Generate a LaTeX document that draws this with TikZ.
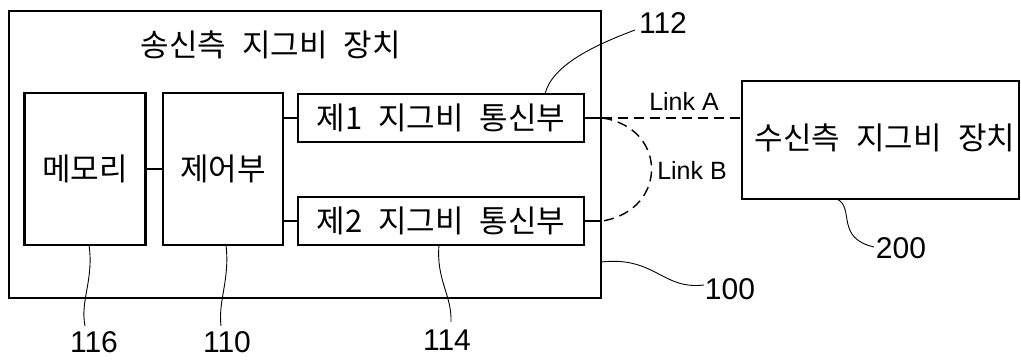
\documentclass[tikz,border=0pt]{standalone}
\usepackage{fontspec}
\setmainfont{Liberation Sans}
\newfontfamily\kr[WordSpace=2.3]{Noto Sans CJK KR}
\begin{document}
\begin{tikzpicture}[x=1pt,y=-1pt,
  box/.style={draw,line width=2.6pt,inner sep=0pt},
  kt/.style={font=\kr\fontsize{31}{35}\selectfont},
  num/.style={font=\fontsize{30}{34}\selectfont,inner sep=0pt},
  lnk/.style={font=\fontsize{25}{28}\selectfont,inner sep=0pt},
  wire/.style={line width=2pt},
  lead/.style={line width=0.9pt},
  dlink/.style={line width=1.4pt,dash pattern=on 10pt off 6pt}]
\useasboundingbox (0,0) rectangle (1021,363);
% boxes
\node[box,minimum width=592pt,minimum height=287pt] (dev) at (305,154.5) {};
\node[kt] (title) at (271,45) {송신측 지그비 장치};
\node[box,kt,minimum width=121pt,minimum height=152pt] (mem) at (85,169) {메모리};
\node[box,kt,minimum width=120pt,minimum height=152pt] (ctl) at (223,169) {제어부};
\node[box,kt,minimum width=286pt,minimum height=48pt] (z1) at (441,118) {제1 지그비 통신부};
\node[box,kt,minimum width=286pt,minimum height=48pt] (z2) at (441,221) {제2 지그비 통신부};
\node[box,minimum width=277pt,minimum height=118pt] (rx) at (880.5,140) {};
\node[kt] (rxt) at (885,138) {수신측 지그비 장치};
% wires
\draw[wire] (mem.east) -- (ctl.west);
\draw[wire] (ctl.east |- z1.west) -- (z1.west);
\draw[wire] (ctl.east |- z2.west) -- (z2.west);
\coordinate (p1) at (dev.east |- z1.east);
\coordinate (p2) at (dev.east |- z2.east);
\draw[wire] (z1.east) -- (p1);
\draw[wire] (z2.east) -- (p2);
% links
\draw[dlink] (p1) -- (rx.west |- p1);
\node[lnk] (la) at (684,101) {Link A};
\draw[dlink] (p1) .. controls (668,128) and (668,210) .. (p2);
\node[lnk] (lb) at (692,170) {Link B};
% reference numbers
\node[num] (n116) at (94,342) {116};
\node[num] (n110) at (227,342) {110};
\node[num] (n114) at (447,340) {114};
\node[num] (n112) at (663,23) {112};
\node[num] (n200) at (901,248) {200};
\node[num] (n100) at (730,289) {100};
\coordinate (e116) at (85,326);
\coordinate (e110) at (221,326);
\coordinate (e114) at (451,322);
\coordinate (e112) at (635,30);
\coordinate (e200) at (874,247);
\coordinate (e100) at (704,285);
\draw[lead] (89,245) .. controls (94,280) and (80,300) .. (e116);
\draw[lead] (226,245) .. controls (230,280) and (218,300) .. (e110);
\draw[lead] (439,245) .. controls (436,280) and (452,295) .. (e114);
\draw[lead] (545,94) .. controls (552,65) and (595,45) .. (e112);
\draw[lead] (837,199) .. controls (855,208) and (835,238) .. (e200);
\draw[lead] (601,262) .. controls (655,256) and (662,290) .. (e100);
\end{tikzpicture}
\end{document}
